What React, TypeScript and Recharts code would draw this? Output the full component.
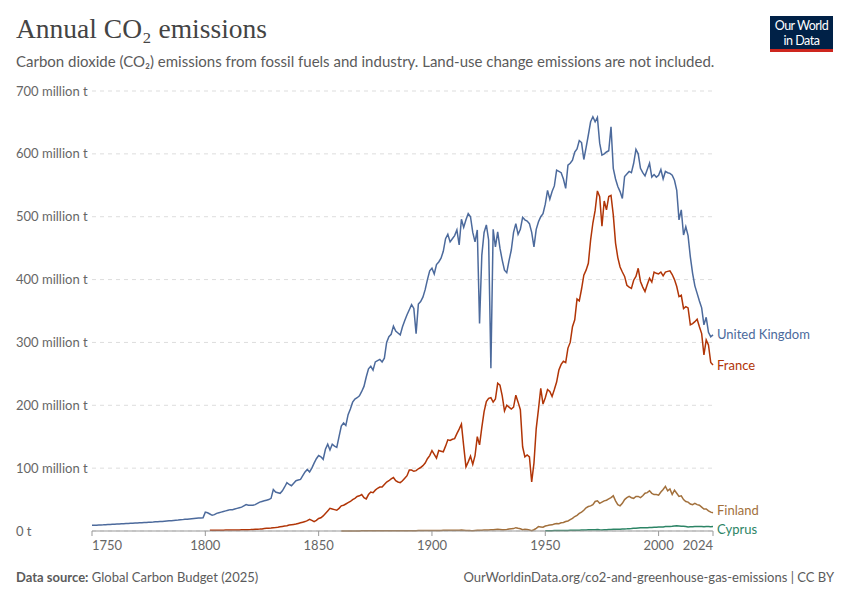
import { CartesianGrid, Line, LineChart, XAxis, YAxis } from "recharts";

// million tonnes CO2, one value per year
const ukStart = 1750;
const ukValues = [
  9.0, 9.2, 9.3, 9.5, 9.7, 9.8, 10.0, 10.2, 10.4, 10.6,
  10.8, 11.0, 11.2, 11.4, 11.6, 11.8, 12.0, 12.2, 12.4, 12.6,
  12.8, 13.0, 13.2, 13.4, 13.6, 13.9, 14.1, 14.3, 14.6, 14.8,
  15.1, 15.3, 15.6, 15.9, 16.2, 16.5, 16.8, 17.1, 17.4, 17.8,
  18.1, 18.5, 18.8, 19.2, 19.6, 20.0, 20.4, 20.8, 20.5, 21.0,
  30, 29, 27, 25, 26, 28, 29, 30, 31, 32,
  33, 34, 34, 35, 36, 37, 38, 40, 42, 41,
  41, 41, 42, 44, 46, 47, 48, 49, 50, 52,
  66, 62, 61, 60, 64, 70, 77, 74, 72, 76,
  80, 81, 82, 88, 94, 98, 94, 100, 108, 115,
  120, 118, 114, 130, 138, 129, 138, 135, 133, 150,
  167, 172, 168, 185, 194, 205, 210, 212, 215, 222,
  230, 245, 258, 262, 256, 269, 271, 273, 269, 275,
  300, 309, 313, 326, 318, 315, 312, 325, 335, 344,
  352, 360, 354, 314, 361, 365, 372, 384, 400, 414,
  418, 409, 424, 428, 434, 445, 465, 472, 460, 465,
  470, 479, 455, 496, 483, 495, 505, 500, 475, 460,
  479, 330, 439, 475, 487, 463, 259, 480, 452, 476,
  450, 431, 415, 411, 430, 447, 475, 489, 472, 480,
  499, 495, 493, 489, 475, 452, 480, 492, 500, 505,
  520, 542, 528, 540, 549, 574, 572, 570, 560, 545,
  582, 585, 590, 603, 608, 621, 618, 591, 610, 630,
  651, 659, 651, 658, 617, 598, 600, 603, 605, 643,
  577, 560, 548, 540, 529, 564, 568, 572, 570, 585,
  607, 600, 577, 570, 565, 575, 585, 563, 567, 563,
  566, 575, 560, 572, 570, 569, 566, 558, 542, 495,
  511, 471, 484, 470, 436, 410, 390, 378, 366, 355,
  328, 340, 316, 309, 312,
];

const franceStart = 1802;
const franceValues = [
  1.0, 1.1, 1.1, 1.2, 1.2, 1.3, 1.3, 1.4,
  1.4, 1.5, 1.5, 1.6, 1.6, 1.7, 1.8, 1.9, 2.0, 2.1,
  2.2, 2.4, 2.6, 2.8, 3.0, 3.3, 3.8, 4.3, 4.5, 4.8,
  5.2, 5.5, 6.0, 6.6, 7.2, 7.8, 8.4, 9.5, 10.0, 10.5,
  11.0, 12.0, 13.0, 14.0, 15.0, 16.5, 18.6, 17.0, 15.0, 17.0,
  20, 21, 24, 28, 32, 36, 35, 34, 33, 36,
  40, 41, 43, 45, 47, 50, 52, 55, 56, 58,
  53, 51, 58, 62, 61, 65, 68, 70, 70, 74,
  78, 80, 83, 85, 80, 78, 77, 80, 84, 88,
  97, 97, 95, 96, 99, 101, 104, 108, 115, 120,
  128, 122, 116, 128, 127, 126, 135, 145, 144, 146,
  147, 155, 162, 170, 135, 102, 110, 119, 106, 120,
  150, 137, 165, 190, 206, 211, 212, 205, 210, 235,
  232, 215, 191, 200, 197, 194, 197, 216, 205, 193,
  134, 118, 121, 118, 78, 108, 163, 194, 227, 202,
  212, 225, 222, 214, 225, 237, 256, 265, 270, 268,
  291, 300, 325, 336, 369, 366, 385, 407, 415, 426,
  463, 490, 510, 541, 532, 485, 525, 511, 532, 534,
  503, 458, 435, 420, 412, 405, 391, 388, 386, 399,
  405, 418, 397, 388, 381, 392, 402, 396, 412, 410,
  409, 412, 406, 412, 413, 414, 408, 400, 389, 373,
  375, 354, 357, 355, 328, 330, 333, 337, 325, 314,
  280, 304, 296, 268, 264,
];

const finlandStart = 1860;
const finlandValues = [
  0.1, 0.1, 0.1, 0.1, 0.1, 0.1, 0.1, 0.1, 0.1, 0.2,
  0.2, 0.2, 0.2, 0.2, 0.2, 0.2, 0.2, 0.3, 0.3, 0.3,
  0.3, 0.3, 0.3, 0.3, 0.4, 0.4, 0.4, 0.4, 0.4, 0.5,
  0.5, 0.5, 0.5, 0.5, 0.6, 0.6, 0.6, 0.7, 0.7, 0.8,
  0.8, 0.8, 0.8, 0.9, 0.9, 1.0, 1.0, 1.1, 1.1, 1.2,
  1.2, 1.3, 1.3, 1.4, 1.2, 0.9, 0.8, 0.6, 0.5, 0.8,
  1.0, 1.1, 1.3, 1.4, 1.5, 1.6, 1.8, 2.0, 2.3, 2.6,
  2.4, 2.0, 1.9, 2.4, 3.0, 3.4, 3.8, 5.3, 4.4, 3.6,
  2.0, 2.6, 2.2, 1.6, 0.5, 2.0, 4.2, 7.0, 6.5, 6.0,
  8.0, 8.6, 9.5, 9.8, 11.0, 12.0, 11.5, 13.0, 13.5, 15.0,
  16, 18, 20, 23, 25, 28, 30, 33, 37, 39,
  40, 42, 47, 48, 44, 46, 48, 49, 51, 53,
  56, 48, 42, 40, 44, 50, 53, 55, 53, 52,
  55, 55, 53, 56, 60, 61, 64, 60, 58, 58,
  57, 62, 66, 71, 64, 67, 58, 65, 60, 55,
  56, 50, 47, 46, 43, 42, 44, 42, 41, 38,
  35, 35, 32, 30, 29,
];

const cyprusStart = 1950;
const cyprusValues = [
  0.4, 0.4, 0.5, 0.5, 0.6, 0.6, 0.7, 0.7, 0.8, 0.8,
  0.9, 1.0, 1.0, 1.1, 1.1, 1.3, 1.4, 1.5, 1.7, 1.8,
  1.9, 2.0, 2.1, 2.2, 1.8, 1.6, 1.9, 2.1, 2.3, 2.5,
  2.6, 2.6, 2.7, 2.8, 3.0, 3.2, 3.4, 3.7, 3.9, 4.2,
  4.4, 4.8, 5.1, 5.3, 5.2, 5.2, 5.5, 5.6, 6.0, 6.1,
  6.3, 6.2, 6.5, 7.0, 7.1, 7.3, 7.5, 7.9, 8.2, 8.0,
  7.7, 7.6, 7.0, 6.4, 6.6, 6.8, 7.1, 7.3, 7.2, 7.2,
  6.6, 7.0, 7.0, 6.9, 7.0,
];

const xTicks = [1750, 1800, 1850, 1900, 1950, 2000, 2024];
const yTicks = [0, 100, 200, 300, 400, 500, 600, 700];

const SERIES = [
  { key: "uk", name: "United Kingdom", color: "#4c6a9c", start: ukStart, values: ukValues, dy: 0 },
  { key: "france", name: "France", color: "#b13507", start: franceStart, values: franceValues, dy: 0 },
  { key: "finland", name: "Finland", color: "#a2703c", start: finlandStart, values: finlandValues, dy: -2 },
  { key: "cyprus", name: "Cyprus", color: "#2c8465", start: cyprusStart, values: cyprusValues, dy: 3 },
];

const FIRST_YEAR = 1750;
const LAST_YEAR = 2024;

const data = Array.from({ length: LAST_YEAR - FIRST_YEAR + 1 }, (_, i) => {
  const year = FIRST_YEAR + i;
  const row: Record<string, number | undefined> = { year };
  SERIES.forEach((s) => {
    const idx = year - s.start;
    row[s.key] = idx >= 0 && idx < s.values.length ? s.values[idx] : undefined;
  });
  return row;
});

const FONT = "Lato, 'Noto Sans', sans-serif";
const GREY = "#5b5b5b";

function YTick({ y, payload }: any) {
  const label = payload.value === 0 ? "0 t" : `${payload.value} million t`;
  return (
    <text x={16} y={y} dy={4.5} fill="#666" fontSize={13} fontFamily={FONT} textAnchor="start">
      {label}
    </text>
  );
}

function XTick({ x, y, payload }: any) {
  const v = payload.value;
  const anchor = v === FIRST_YEAR ? "start" : v === LAST_YEAR ? "end" : "middle";
  return (
    <text x={x} y={y} dy={12} fill="#666" fontSize={13} fontFamily={FONT} textAnchor={anchor}>
      {v}
    </text>
  );
}

function endLabel(name: string, color: string, last: number, dy: number) {
  return (props: any) => {
    if (props.index !== last) return null;
    return (
      <text x={props.x + 4} y={props.y + dy} dy={4.5} fill={color} fontSize={13} fontFamily={FONT}>
        {name}
      </text>
    );
  };
}

export default function App() {
  return (
    <div style={{ position: "absolute", left: 0, top: 0, width: 850, height: 600, background: "#fff", fontFamily: FONT }}>
      <div
        style={{
          position: "absolute",
          left: 16,
          top: 13,
          fontFamily: "'Liberation Serif', 'DejaVu Serif', serif",
          fontSize: 27.5,
          color: "#444",
          whiteSpace: "nowrap",
        }}
      >
        Annual CO₂ emissions
      </div>
      <div style={{ position: "absolute", left: 16, top: 52, fontSize: 15, color: GREY, whiteSpace: "nowrap" }}>
        Carbon dioxide (CO₂) emissions from fossil fuels and industry. Land-use change emissions are not included.
      </div>
      <div
        style={{
          position: "absolute",
          left: 770,
          top: 16,
          width: 63,
          height: 36,
          background: "#002147",
          borderBottom: "3px solid #ce261e",
          color: "#fff",
          fontSize: 12.5,
          lineHeight: "15px",
          textAlign: "center",
          paddingTop: 2,
          boxSizing: "border-box",
          letterSpacing: -0.5,
        }}
      >
        <div>Our World</div>
        <div>in Data</div>
      </div>

      <div style={{ position: "absolute", left: 0, top: 0 }}>
        <LineChart width={850} height={600} data={data} margin={{ top: 91, right: 137, bottom: 39, left: 16 }}>
          <CartesianGrid horizontal vertical={false} stroke="#ddd" strokeDasharray="4 4" />
          <XAxis
            dataKey="year"
            type="number"
            domain={[FIRST_YEAR, LAST_YEAR]}
            ticks={xTicks}
            height={30}
            stroke="#999"
            tickSize={5}
            tick={<XTick />}
            interval={0}
          />
          <YAxis
            type="number"
            domain={[0, 700]}
            ticks={yTicks}
            width={76}
            axisLine={false}
            tickLine={false}
            tick={<YTick />}
            interval={0}
          />
          {SERIES.map((s) => (
            <Line
              key={s.key}
              dataKey={s.key}
              name={s.name}
              stroke={s.color}
              strokeWidth={1.5}
              dot={false}
              activeDot={false}
              type="linear"
              isAnimationActive={false}
              label={endLabel(s.name, s.color, LAST_YEAR - FIRST_YEAR, s.dy)}
            />
          ))}
        </LineChart>
      </div>

      <div style={{ position: "absolute", left: 16, top: 569, fontSize: 13, color: GREY, whiteSpace: "nowrap" }}>
        <b style={{ fontWeight: 700 }}>Data source:</b> Global Carbon Budget (2025)
      </div>
      <div style={{ position: "absolute", right: 16, top: 569, fontSize: 13, color: GREY, whiteSpace: "nowrap" }}>
        OurWorldinData.org/co2-and-greenhouse-gas-emissions | CC BY
      </div>
    </div>
  );
}
